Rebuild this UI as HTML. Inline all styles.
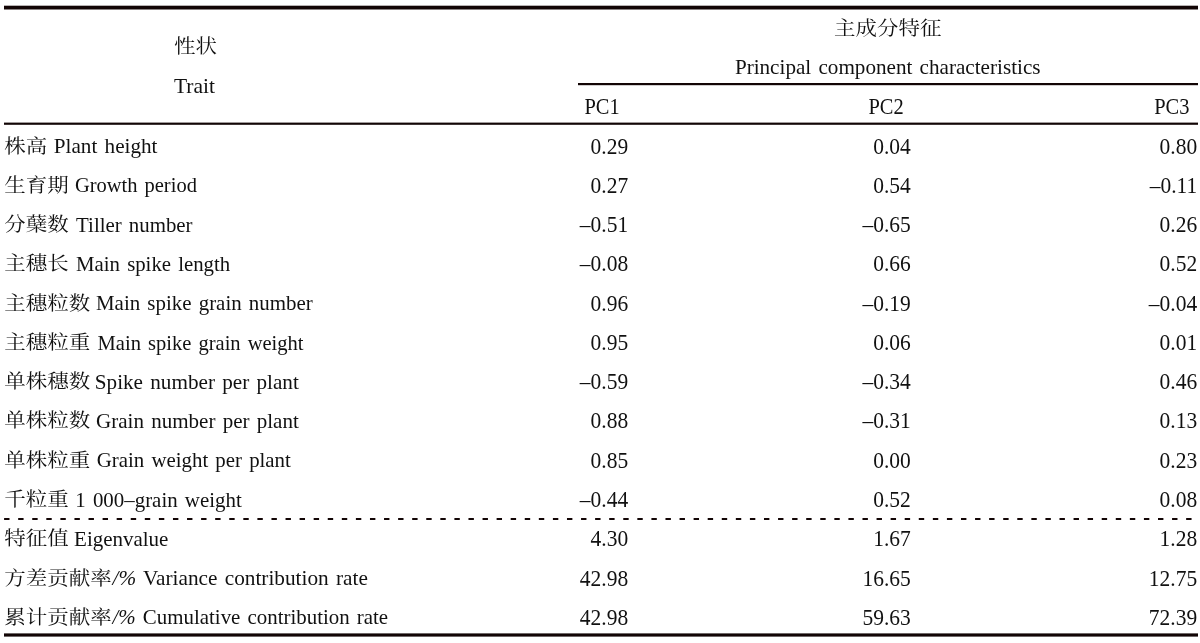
<!DOCTYPE html>
<html lang="zh-CN"><head><meta charset="utf-8"><title>主成分特征</title>
<style>
html,body{margin:0;padding:0;background:#fff;}
body{width:1200px;height:643px;overflow:hidden;}
svg{display:block;}
text{font-family:"Liberation Serif","Noto Serif CJK SC",serif;font-size:21.5px;fill:#111;}
text.w{word-spacing:2.0px;}
text.c{font-family:"Noto Serif CJK SC","Liberation Serif",serif;font-size:21.5px;}
</style></head><body>
<svg width="1200" height="643" viewBox="0 0 1200 643">
<rect x="4" y="5.7" width="1194" height="3.8" fill="#120505"/>
<rect x="578" y="83" width="620" height="2.2" fill="#120505"/>
<rect x="4" y="122.6" width="1194" height="2.2" fill="#120505"/>
<line x1="4.1" y1="519" x2="1192" y2="519" stroke="#120505" stroke-width="2" stroke-dasharray="5.4 8.672"/>
<rect x="4" y="633.4" width="1194" height="3.2" fill="#120505"/>
<text class="c" transform="matrix(1 0 0 0.92 195.5 53.40)" text-anchor="middle">性状</text>
<text x="194.5" y="93.2" text-anchor="middle">Trait</text>
<text class="c" transform="matrix(1 0 0 0.92 887.7 34.50)" text-anchor="middle">主成分特征</text>
<text class="w" x="887.7" y="74.2" text-anchor="middle" textLength="305.6" lengthAdjust="spacingAndGlyphs">Principal component characteristics</text>
<text transform="matrix(0.95 0 0 1.06 602.1 113.8)" text-anchor="middle">PC1</text>
<text transform="matrix(0.95 0 0 1.06 886.1 113.8)" text-anchor="middle">PC2</text>
<text transform="matrix(0.95 0 0 1.06 1171.8 113.8)" text-anchor="middle">PC3</text>
<text class="c" transform="matrix(1 0 0 0.92 4.3 152.60)">株高</text><text x="53.80" y="153.20" textLength="103.71" lengthAdjust="spacingAndGlyphs" class="w">Plant height</text><text transform="matrix(1 0 0 1.075 628.2 153.60)" text-anchor="end">0.29</text><text transform="matrix(1 0 0 1.075 910.8 153.60)" text-anchor="end">0.04</text><text transform="matrix(1 0 0 1.075 1197.2 153.60)" text-anchor="end">0.80</text>
<text class="c" transform="matrix(1 0 0 0.92 4.3 191.87)">生育期</text><text x="74.90" y="192.47" textLength="122.00" lengthAdjust="spacingAndGlyphs" class="w">Growth period</text><text transform="matrix(1 0 0 1.075 628.2 192.87)" text-anchor="end">0.27</text><text transform="matrix(1 0 0 1.075 910.8 192.87)" text-anchor="end">0.54</text><text transform="matrix(1 0 0 1.075 1197.2 192.87)" text-anchor="end">–0.11</text>
<text class="c" transform="matrix(1 0 0 0.92 4.3 231.14)">分蘖数</text><text x="76.10" y="231.74" textLength="116.46" lengthAdjust="spacingAndGlyphs" class="w">Tiller number</text><text transform="matrix(1 0 0 1.075 628.2 232.14)" text-anchor="end">–0.51</text><text transform="matrix(1 0 0 1.075 910.8 232.14)" text-anchor="end">–0.65</text><text transform="matrix(1 0 0 1.075 1197.2 232.14)" text-anchor="end">0.26</text>
<text class="c" transform="matrix(1 0 0 0.92 4.3 270.41)">主穗长</text><text x="76.10" y="271.01" textLength="154.07" lengthAdjust="spacingAndGlyphs" class="w">Main spike length</text><text transform="matrix(1 0 0 1.075 628.2 271.41)" text-anchor="end">–0.08</text><text transform="matrix(1 0 0 1.075 910.8 271.41)" text-anchor="end">0.66</text><text transform="matrix(1 0 0 1.075 1197.2 271.41)" text-anchor="end">0.52</text>
<text class="c" transform="matrix(1 0 0 0.92 4.3 309.68)">主穗粒数</text><text x="96.00" y="310.28" textLength="216.75" lengthAdjust="spacingAndGlyphs" class="w">Main spike grain number</text><text transform="matrix(1 0 0 1.075 628.2 310.68)" text-anchor="end">0.96</text><text transform="matrix(1 0 0 1.075 910.8 310.68)" text-anchor="end">–0.19</text><text transform="matrix(1 0 0 1.075 1197.2 310.68)" text-anchor="end">–0.04</text>
<text class="c" transform="matrix(1 0 0 0.92 4.3 348.95)">主穗粒重</text><text x="97.60" y="349.55" textLength="205.99" lengthAdjust="spacingAndGlyphs" class="w">Main spike grain weight</text><text transform="matrix(1 0 0 1.075 628.2 349.95)" text-anchor="end">0.95</text><text transform="matrix(1 0 0 1.075 910.8 349.95)" text-anchor="end">0.06</text><text transform="matrix(1 0 0 1.075 1197.2 349.95)" text-anchor="end">0.01</text>
<text class="c" transform="matrix(1 0 0 0.92 4.3 388.22)">单株穗数</text><text x="94.80" y="388.82" textLength="204.02" lengthAdjust="spacingAndGlyphs" class="w">Spike number per plant</text><text transform="matrix(1 0 0 1.075 628.2 389.22)" text-anchor="end">–0.59</text><text transform="matrix(1 0 0 1.075 910.8 389.22)" text-anchor="end">–0.34</text><text transform="matrix(1 0 0 1.075 1197.2 389.22)" text-anchor="end">0.46</text>
<text class="c" transform="matrix(1 0 0 0.92 4.3 427.49)">单株粒数</text><text x="96.00" y="428.09" textLength="202.80" lengthAdjust="spacingAndGlyphs" class="w">Grain number per plant</text><text transform="matrix(1 0 0 1.075 628.2 428.49)" text-anchor="end">0.88</text><text transform="matrix(1 0 0 1.075 910.8 428.49)" text-anchor="end">–0.31</text><text transform="matrix(1 0 0 1.075 1197.2 428.49)" text-anchor="end">0.13</text>
<text class="c" transform="matrix(1 0 0 0.92 4.3 466.76)">单株粒重</text><text x="96.80" y="467.36" textLength="194.05" lengthAdjust="spacingAndGlyphs" class="w">Grain weight per plant</text><text transform="matrix(1 0 0 1.075 628.2 467.76)" text-anchor="end">0.85</text><text transform="matrix(1 0 0 1.075 910.8 467.76)" text-anchor="end">0.00</text><text transform="matrix(1 0 0 1.075 1197.2 467.76)" text-anchor="end">0.23</text>
<text class="c" transform="matrix(1 0 0 0.92 4.3 506.03)">千粒重</text><text x="75.30" y="506.63" textLength="166.40" lengthAdjust="spacingAndGlyphs" class="w">1 000–grain weight</text><text transform="matrix(1 0 0 1.075 628.2 507.03)" text-anchor="end">–0.44</text><text transform="matrix(1 0 0 1.075 910.8 507.03)" text-anchor="end">0.52</text><text transform="matrix(1 0 0 1.075 1197.2 507.03)" text-anchor="end">0.08</text>
<text class="c" transform="matrix(1 0 0 0.92 4.3 545.30)">特征值</text><text x="74.10" y="545.90" textLength="94.32" lengthAdjust="spacingAndGlyphs" class="w">Eigenvalue</text><text transform="matrix(1 0 0 1.075 628.2 546.30)" text-anchor="end">4.30</text><text transform="matrix(1 0 0 1.075 910.8 546.30)" text-anchor="end">1.67</text><text transform="matrix(1 0 0 1.075 1197.2 546.30)" text-anchor="end">1.28</text>
<text class="c" transform="matrix(1 0 0 0.92 4.3 584.57)">方差贡献率</text><text x="112.50" y="585.17" textLength="255.34" lengthAdjust="spacingAndGlyphs" class="w"><tspan font-style="italic">/%</tspan> Variance contribution rate</text><text transform="matrix(1 0 0 1.075 628.2 585.57)" text-anchor="end">42.98</text><text transform="matrix(1 0 0 1.075 910.8 585.57)" text-anchor="end">16.65</text><text transform="matrix(1 0 0 1.075 1197.2 585.57)" text-anchor="end">12.75</text>
<text class="c" transform="matrix(1 0 0 0.92 4.3 623.84)">累计贡献率</text><text x="112.50" y="624.44" textLength="275.66" lengthAdjust="spacingAndGlyphs" class="w"><tspan font-style="italic">/%</tspan> Cumulative contribution rate</text><text transform="matrix(1 0 0 1.075 628.2 624.84)" text-anchor="end">42.98</text><text transform="matrix(1 0 0 1.075 910.8 624.84)" text-anchor="end">59.63</text><text transform="matrix(1 0 0 1.075 1197.2 624.84)" text-anchor="end">72.39</text>
</svg>
</body></html>
